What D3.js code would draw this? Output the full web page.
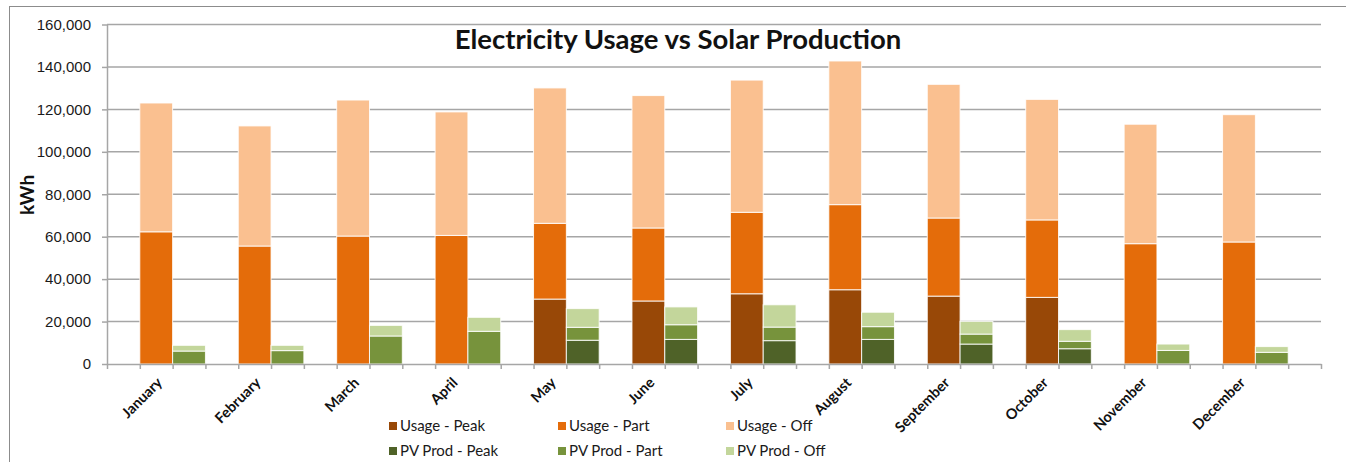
<!DOCTYPE html>
<html>
<head>
<meta charset="utf-8">
<script src="https://cdn.jsdelivr.net/npm/d3@7"></script>
<style>
  body { margin: 0; background: #fff; }
  svg { font-family: Lato, "Open Sans", sans-serif; }
  .grid line { stroke: #a6a6a6; stroke-width: 1.5; }
  .axis path, .axis line { stroke: #a6a6a6; stroke-width: 1.5; }
  .axis text { fill: #1a1a1a; font-size: 15px; }
  .monthLabel { font-size: 14.5px; font-weight: bold; fill: #111; }
  .legend text { font-size: 15px; fill: #1a1a1a; }
</style>
</head>
<body>
<div id="chart"></div>
<script>
const months = ['January','February','March','April','May','June','July','August','September','October','November','December']

// usage (kWh)
const usagePeak = [0, 0, 0, 0, 30600, 29700, 33100, 35000, 32000, 31400, 0, 0]
const usagePart = [62300, 55600, 60300, 60600, 35700, 34400, 38400, 40100, 36800, 36500, 56700, 57500]
const usageOff  = [60700, 56600, 64100, 58200, 63800, 62400, 62300, 67700, 63000, 56800, 56300, 60000]

// solar production (kWh)
const pvPeak = [0, 0, 0, 0, 11200, 11600, 11000, 11600, 9400, 7200, 0, 0]
const pvPart = [6100, 6300, 13200, 15400, 6100, 6900, 6400, 6000, 4700, 3500, 6400, 5500]
const pvOff  = [2700, 2500, 5000, 6600, 8800, 8400, 10500, 6800, 6000, 5500, 3000, 2700]

const yTicks = [0, 20000, 40000, 60000, 80000, 100000, 120000, 140000, 160000]

const series = [
  {name: 'Usage - Peak', values: usagePeak, group: 'usage', colour: '#984807'},
  {name: 'Usage - Part', values: usagePart, group: 'usage', colour: '#e46c0a'},
  {name: 'Usage - Off', values: usageOff, group: 'usage', colour: '#fac090'},
  {name: 'PV Prod - Peak', values: pvPeak, group: 'pv', colour: '#4f6228'},
  {name: 'PV Prod - Part', values: pvPart, group: 'pv', colour: '#77933c'},
  {name: 'PV Prod - Off', values: pvOff, group: 'pv', colour: '#c3d69b'}
]

let width = 1346
let height = 462

const margin = {top: 24.5, right: 25, bottom: 98, left: 107}

let svg = d3.select('#chart').append('svg')
  .attr('width', width)
  .attr('height', height)

// outer frame
svg.append('rect')
  .attr('x', 9.5).attr('y', 6.5)
  .attr('width', width + 10).attr('height', height + 10)
  .style('fill', 'none')
  .style('stroke', '#8c8c8c')
  .style('stroke-width', 1)

// each month takes 3 slots: empty, usage, pv ; plus one empty slot at the end
let nSlots = months.length * 3 + 1

let slot = d3.scaleLinear()
  .domain([0, nSlots])
  .range([margin.left, width - margin.right])

let y = d3.scaleLinear()
  .domain([0, 160000])
  .range([height - margin.bottom, margin.top])

svg.append('g')
  .attr('class', 'grid')
  .selectAll('line')
  .data(yTicks.slice(1))
  .enter()
  .append('line')
  .attr('x1', slot(0))
  .attr('x2', slot(nSlots))
  .attr('y1', d => y(d))
  .attr('y2', d => y(d))

let yAxis = d3.axisLeft(y)
  .tickValues(yTicks)
  .tickSize(5)
  .tickPadding(11)
  .tickSizeOuter(0)
  .tickFormat(d3.format(','))

svg.append('g')
  .attr('class', 'axis yAxis')
  .attr('transform', `translate(${margin.left}, 0)`)
  .call(yAxis)

// stacks
let stackRows = months.map((m, i) => {
  let row = {month: m, i: i}
  series.forEach(s => { row[s.name] = s.values[i] })
  return row
})

let groups = [
  {key: 'usage', offset: 1},
  {key: 'pv', offset: 2}
]

groups.forEach(g => {
  let keys = series.filter(s => s.group == g.key)
  let stacked = d3.stack().keys(keys.map(s => s.name))(stackRows)

  svg.append('g')
    .selectAll('g')
    .data(stacked)
    .enter()
    .append('g')
    .style('fill', d => keys.find(s => s.name == d.key).colour)
    .selectAll('rect')
    .data(d => d.filter(p => p[1] - p[0] > 0))
    .enter()
    .append('rect')
    .attr('x', p => slot(p.data.i * 3 + g.offset))
    .attr('width', slot(1) - slot(0))
    .attr('y', p => y(p[1]))
    .attr('height', p => y(p[0]) - y(p[1]))
    .style('stroke', '#fff')
    .style('stroke-opacity', 0.85)
    .style('stroke-width', 1)
})

let xAxis = d3.axisBottom(slot)
  .tickValues(d3.range(nSlots + 1))
  .tickSize(5)
  .tickSizeOuter(0)
  .tickFormat('')

svg.append('g')
  .attr('class', 'axis xAxis')
  .attr('transform', `translate(0, ${y(0)})`)
  .call(xAxis)

svg.selectAll('text.monthLabel')
  .data(months)
  .enter()
  .append('text')
  .attr('class', 'monthLabel')
  .attr('transform', (d, i) => `translate(${slot(i * 3 + 2) - 13}, ${y(0) + 16}) rotate(-45)`)
  .style('text-anchor', 'end')
  .attr('dy', '0.35em')
  .text(d => d)

// title + axis title
svg.append('text')
  .attr('x', 678)
  .attr('y', 49)
  .style('text-anchor', 'middle')
  .style('font-size', '27.5px')
  .style('font-weight', 'bold')
  .style('fill', '#111')
  .text('Electricity Usage vs Solar Production')

svg.append('text')
  .attr('transform', `translate(34, 195) rotate(-90)`)
  .style('text-anchor', 'middle')
  .style('font-size', '19px')
  .style('font-weight', 'bold')
  .style('fill', '#111')
  .text('kWh')

// legend, 3 columns x 2 rows
let legendX = [389, 558, 726]
let legendY = [426, 451]

let legend = svg.append('g')
  .attr('class', 'legend')
  .selectAll('g')
  .data(series)
  .enter()
  .append('g')
  .attr('transform', (d, i) => `translate(${legendX[i % 3]}, ${legendY[Math.floor(i / 3)]})`)

legend.append('rect')
  .attr('x', 0).attr('y', -4)
  .attr('width', 8).attr('height', 8)
  .style('fill', d => d.colour)

legend.append('text')
  .attr('x', 11)
  .attr('dy', '0.35em')
  .text(d => d.name)
</script>
</body>
</html>
